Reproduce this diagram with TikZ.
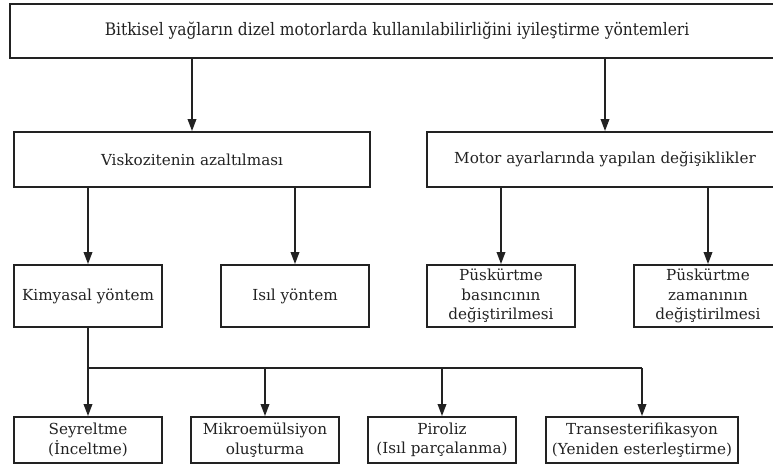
\documentclass[tikz,border=0pt]{standalone}
\usepackage{fontspec}
\setmainfont{DejaVu Serif}
\newfontfamily\condfont{DejaVu Serif Condensed}
\usetikzlibrary{arrows.meta}
\definecolor{ink}{HTML}{222222}
\tikzset{
  x=1pt, y=-1pt,
  box/.style={draw=ink, line width=1.8pt, inner sep=0pt, align=center,
    font=\fontsize{15.2}{19.5}\selectfont, text=ink},
  arr/.style={draw=ink, line width=1.8pt, -{Triangle[length=12pt,width=8.5pt]}},
  line/.style={draw=ink, line width=1.8pt},
}
% box from corner (x1,y1) to (x2,y2)
\newcommand{\boxat}[6]{%
  \node[box, minimum width={#4-#2}, minimum height={#5-#3}]
    (#1) at ({(#2+#4)/2},{(#3+#5)/2}) {#6};}
\begin{document}
\begin{tikzpicture}
\useasboundingbox (0,0) rectangle (773,465);
\boxat{top}{10}{4}{784}{58}{\condfont\fontsize{17.2}{19}\selectfont Bitkisel yağların dizel motorlarda kullanılabilirliğini iyileştirme yöntemleri}
\boxat{V}{14}{132}{370}{187}{Viskozitenin azaltılması}
\boxat{M}{427}{132}{783}{187}{Motor ayarlarında yapılan değişiklikler}
\boxat{K}{14}{265}{162}{327}{Kimyasal yöntem}
\boxat{I}{221}{265}{369}{327}{Isıl yöntem}
\boxat{PB}{427}{265}{575}{327}{Püskürtme\\basıncının\\değiştirilmesi}
\boxat{PZ}{634}{265}{782}{327}{Püskürtme\\zamanının\\değiştirilmesi}
\boxat{S}{14}{417}{162}{463}{Seyreltme\\(İnceltme)}
\boxat{Mi}{191}{417}{339}{463}{Mikroemülsiyon\\oluşturma}
\boxat{Pi}{368}{417}{516}{463}{Piroliz\\(Isıl parçalanma)}
\boxat{T}{546}{417}{738}{463}{Transesterifikasyon\\(Yeniden esterleştirme)}
% first level
\draw[arr] (V.north |- top.south) -- (V.north);
\draw[arr] (M.north |- top.south) -- (M.north);
% second level
\draw[arr] (K.north |- V.south) -- (K.north);
\draw[arr] (I.north |- V.south) -- (I.north);
\draw[arr] (PB.north |- M.south) -- (PB.north);
\draw[arr] (PZ.north |- M.south) -- (PZ.north);
% chemical methods bus
\coordinate (bus) at (0,368);
\draw[line] (K.south) -- (K.south |- bus) -- (T.north |- bus);
\foreach \n in {S,Mi,Pi,T}
  \draw[arr] (\n.north |- bus) -- (\n.north);
\end{tikzpicture}
\end{document}
